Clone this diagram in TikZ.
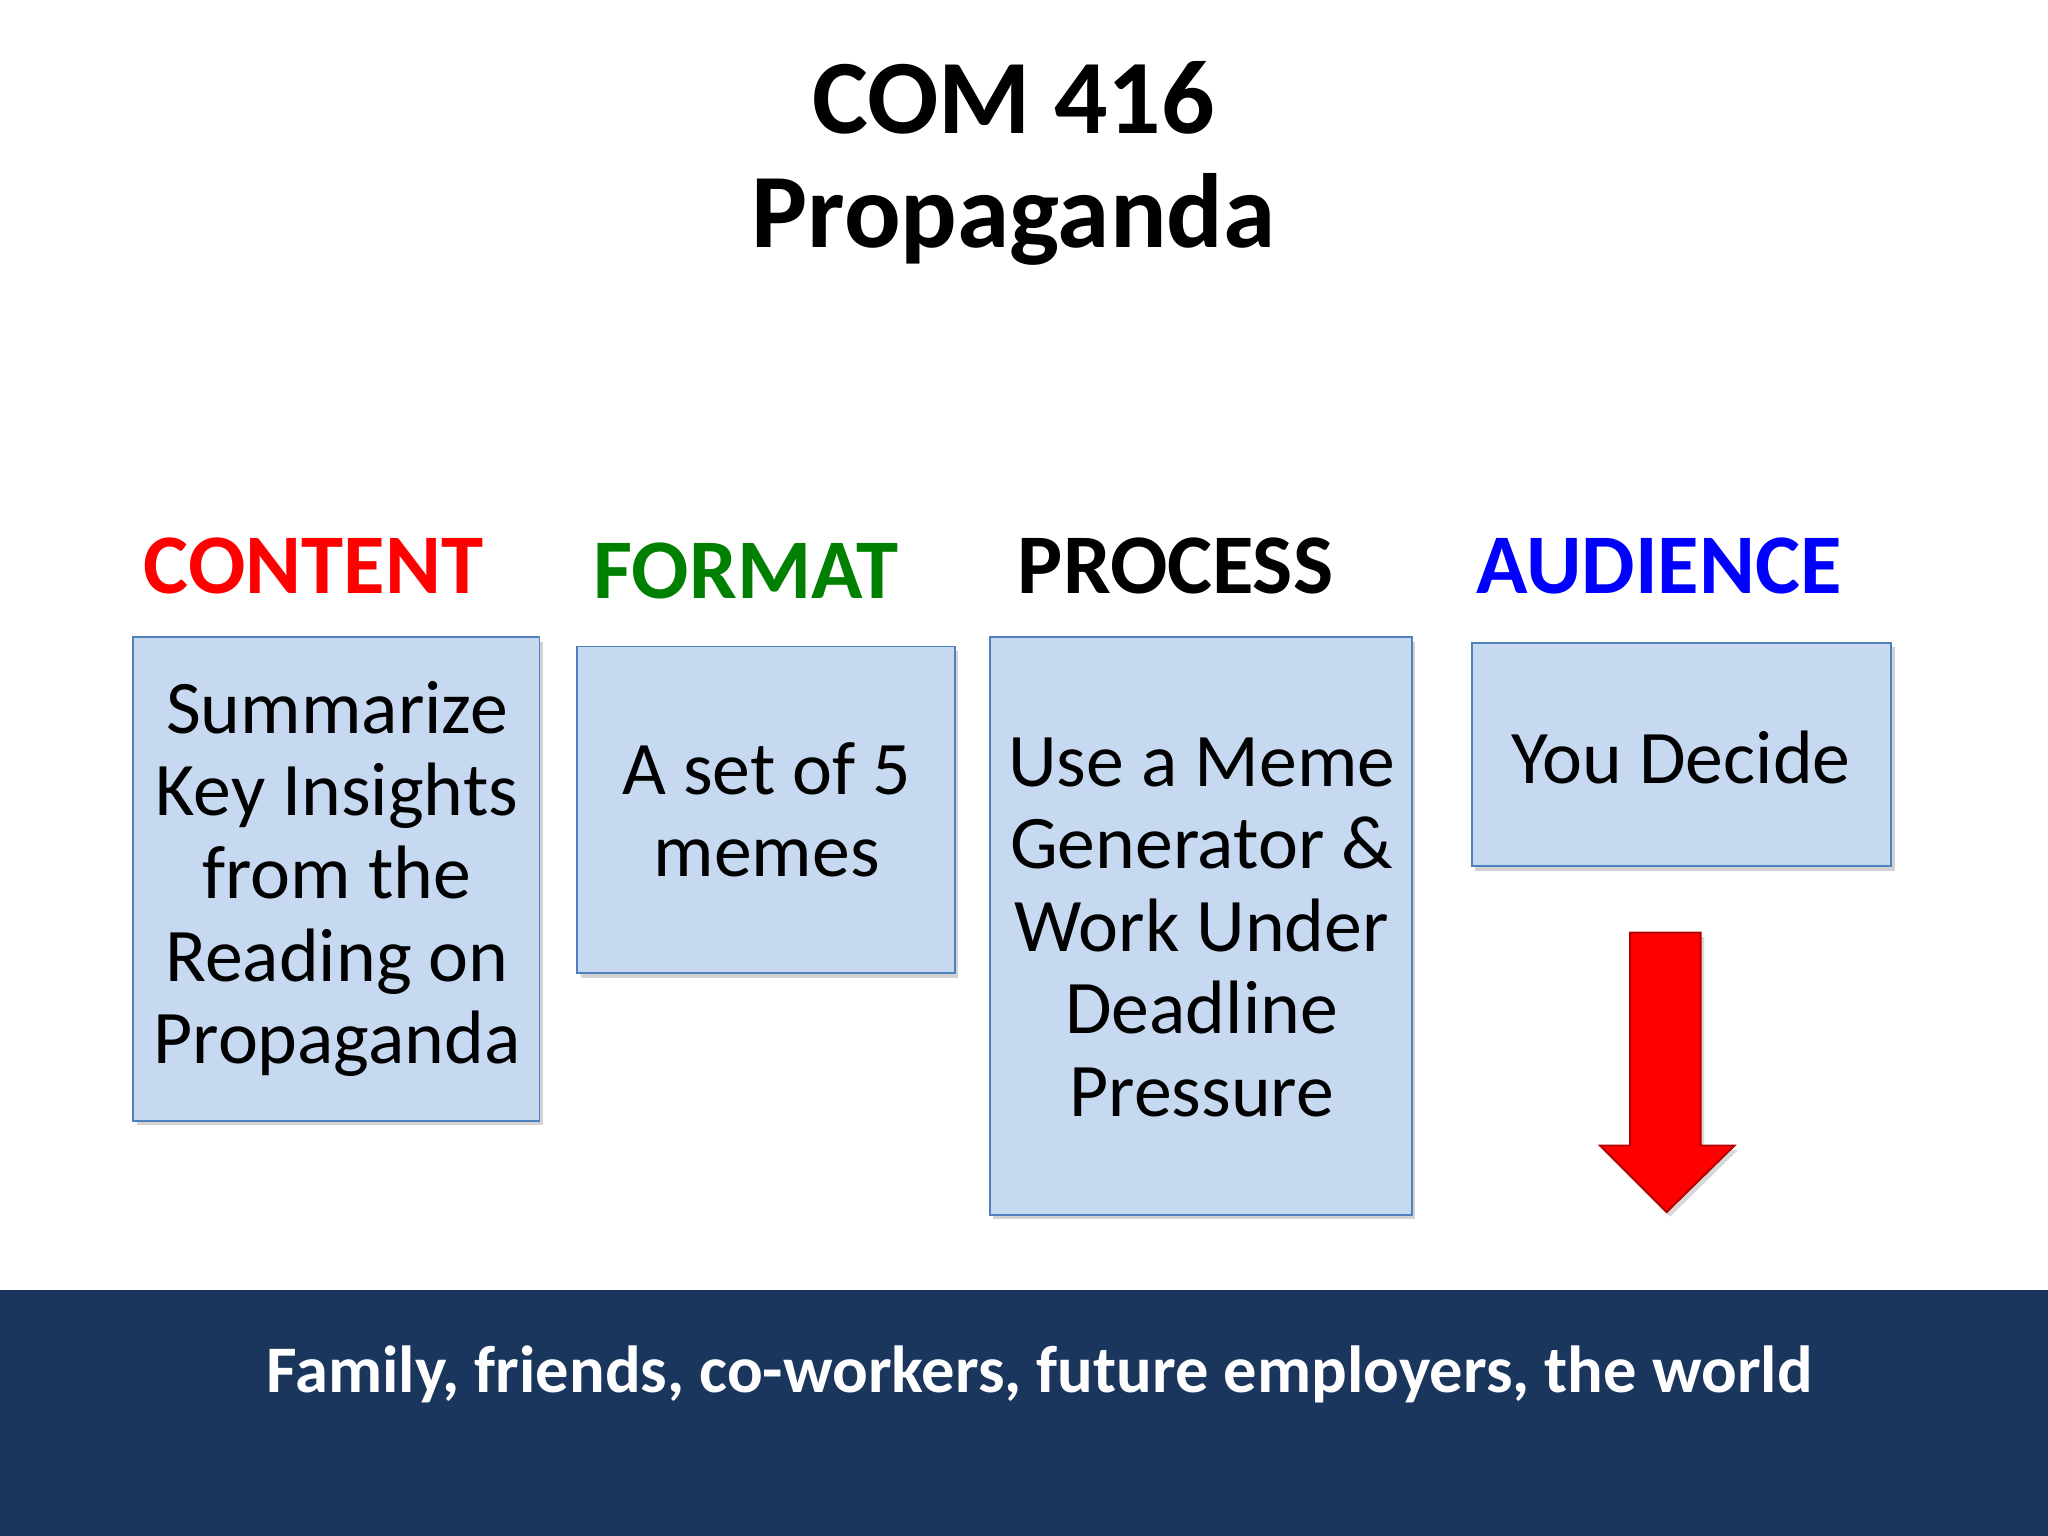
\documentclass[tikz,border=0pt]{standalone}
\usepackage{fontspec}
\setmainfont{Carlito}
\usetikzlibrary{shadows}
\definecolor{boxfill}{HTML}{C6D9F1}
\definecolor{boxline}{HTML}{4F81BD}
\definecolor{band}{HTML}{1B365D}
\definecolor{fmt}{HTML}{008000}
\begin{document}
\begin{tikzpicture}[x=0.02cm,y=-0.02cm,
  bx/.style={draw=boxline,fill=boxfill,line width=0.8pt,drop shadow={shadow xshift=1.5pt,shadow yshift=-2pt,opacity=0.35}},
  bt/.style={align=center,font=\fontsize{33}{36}\selectfont},
  hd/.style={font=\fontsize{37}{40}\selectfont\bfseries}]
\useasboundingbox (0,0) rectangle (1568,1176);
\fill[white] (0,0) rectangle (1568,1176);
\fill[band] (0,988) rectangle (1568,1176);
\node[font=\fontsize{46}{54}\selectfont\bfseries] (t1) at (776,75) {COM 416};
\node[font=\fontsize{46}{54}\selectfont\bfseries] (t2) at (776,168) {Propaganda};
\node[hd,text=red] (h1) at (240,433) {CONTENT};
\node[hd,text=fmt] (h2) at (571,437) {FORMAT};
\node[hd] (h3) at (900,433) {PROCESS};
\node[hd,text=blue] (h4) at (1270,433) {AUDIENCE};
\draw[bx] (102,488) rectangle (413,858);
\draw[bx] (442,495) rectangle (731,745);
\draw[bx] (758,488) rectangle (1081,930);
\draw[bx] (1127,492) rectangle (1448,663);
\node[bt] (b1) at (258,673) {Summarize\\Key Insights\\from the\\Reading on\\Propaganda};
\node[bt] (b2) at (587,620) {A set of 5\\memes};
\node[bt] (b3) at (920,710) {Use a Meme\\Generator \&\\Work Under\\Deadline\\Pressure};
\node[bt] (b4) at (1287,580) {You Decide};
\fill[red,draw=red!70!black,line width=0.8pt,drop shadow={shadow xshift=1.5pt,shadow yshift=-2pt,opacity=0.3}]
  (1248,714) -- (1302,714) -- (1302,877) -- (1328,877) -- (1276,928) -- (1225,877) -- (1248,877) -- cycle;
\node[text=white,font=\fontsize{29}{34}\selectfont\bfseries] (aud) at (796,1052) {Family, friends, co-workers, future employers, the world};
\end{tikzpicture}
\end{document}
